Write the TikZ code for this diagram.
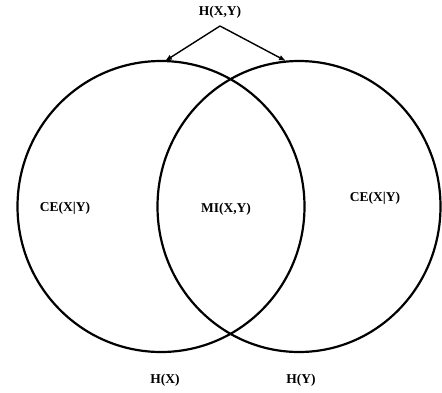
\documentclass[tikz,border=0pt]{standalone}
\usepackage{fontspec}
\setmainfont{Liberation Serif}
\usetikzlibrary{arrows.meta}

\begin{document}
\begin{tikzpicture}[x=1pt,y=-1pt,
    font=\fontsize{13.5}{16}\selectfont\bfseries,
    ring/.style={line width=2.2pt},
    link/.style={line width=1.4pt,-{Latex[length=7pt,width=5.5pt]}}]
  \useasboundingbox (0,0) rectangle (442,392);

  \draw[ring] (161,206.5) ellipse[x radius=143.5pt,y radius=145.5pt];
  \draw[ring] (299,206.5) ellipse[x radius=141.5pt,y radius=145.5pt];

  \node (hxy) at (220,12) {H(X,Y)};
  \coordinate (topx) at (165,61);
  \coordinate (topy) at (286,61);
  \coordinate (root) at (220,26);

  \draw[link] (root) -- (topx);
  \draw[link] (root) -- (topy);

  \node (cex) at (65,208) {CE(X|Y)};
  \node (mi)  at (226,209) {MI(X,Y)};
  \node (cey) at (375,198) {CE(X|Y)};

  \node (hx) at (165,380) {H(X)};
  \node (hy) at (301,380) {H(Y)};
\end{tikzpicture}
\end{document}
